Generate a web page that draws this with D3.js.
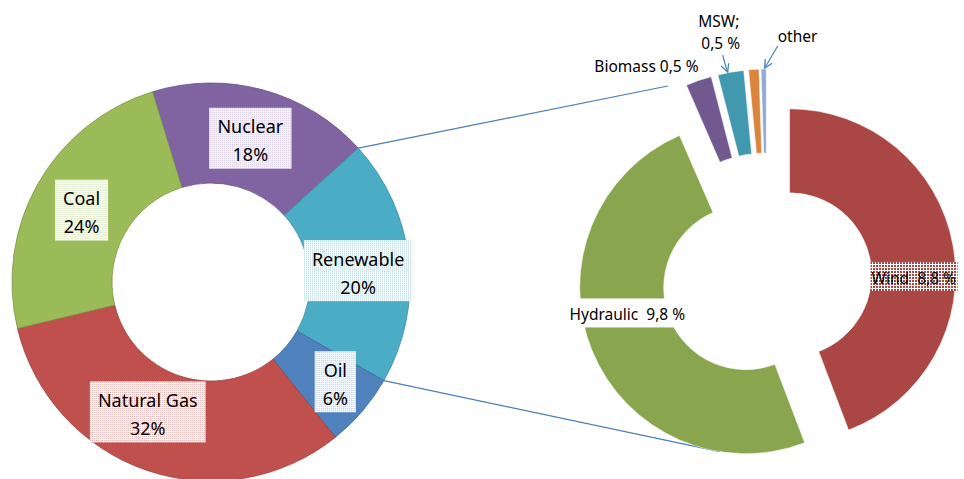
<!DOCTYPE html>
<html>
<head>
<meta charset="utf-8">
<script src="https://cdn.jsdelivr.net/npm/d3@7"></script>
<style>
  body { margin: 0; background: #fff; }
  text { font-family: "Noto Sans", "Open Sans", sans-serif; fill: #000; }
</style>
</head>
<body>
<script>
// energy mix (left ring)
const mixLabels = ["Nuclear", "Renewable", "Oil", "Natural Gas", "Coal"];
const mixValues = [18, 20, 6, 32, 24];
const mixColors = ["#8064A2", "#4BACC6", "#4F81BD", "#C0504D", "#9BBB59"];

// renewable split (right ring, % of total)
const renLabels = ["Wind", "Hydraulic", "Biomass", "MSW", "", "other"];
const renValues = [8.8, 9.8, 0.5, 0.5, 0.2, 0.1];
const renText = ["Wind  8,8 %", "Hydraulic  9,8 %", "Biomass 0,5 %", "MSW;|0,5 %", "", "other"];
const renColors = ["#AA4643", "#89A54E", "#71588F", "#4198AF", "#DB843D", "#93A9CF"];

const width = 964, height = 479;
const deg = Math.PI / 180;

const svg = d3.select("body").append("svg")
    .attr("width", width)
    .attr("height", height);
const defs = svg.append("defs");

// dotted label fills like excel's pattern fill
mixColors.forEach(function(c, i) {
  let p = defs.append("pattern").attr("id", "dots" + i)
      .attr("width", 2).attr("height", 2)
      .attr("patternUnits", "userSpaceOnUse");
  p.append("rect").attr("width", 2).attr("height", 2).attr("fill", "#fff");
  p.append("rect").attr("width", 1).attr("height", 1).attr("fill", c).attr("opacity", 0.55);
});
let grid = defs.append("pattern").attr("id", "grid")
    .attr("width", 3).attr("height", 3)
    .attr("patternUnits", "userSpaceOnUse");
grid.append("rect").attr("width", 3).attr("height", 3).attr("fill", "#fff");
grid.append("rect").attr("x", 1).attr("y", 1).attr("width", 2).attr("height", 2).attr("fill", renColors[0]);

defs.append("marker").attr("id", "arrow")
    .attr("viewBox", "0 0 10 10").attr("refX", 9).attr("refY", 5)
    .attr("markerWidth", 10).attr("markerHeight", 10)
    .attr("markerUnits", "userSpaceOnUse")
    .attr("orient", "auto")
  .append("path")
    .attr("d", "M1,1 L9,5 L1,9")
    .attr("fill", "none")
    .attr("stroke", "#4A7EBB")
    .attr("stroke-width", 1.3);

// ---- geometry
const left = {cx: 211, cy: 282, r0: 99, r1: 199};
const right = {cx: 767, cy: 279, r0: 82, r1: 166};
const explode = [23, 23, 44, 44, 44, 44];

const pieL = d3.pie().sort(null).startAngle(-17.1 * deg).endAngle(342.9 * deg);
const pieR = d3.pie().sort(null);
const arcL = d3.arc().innerRadius(left.r0).outerRadius(left.r1);
const arcR = d3.arc().innerRadius(right.r0).outerRadius(right.r1);

const mixArcs = pieL(mixValues);
const renArcs = pieR(renValues);

function polar(a, r) { return [Math.sin(a) * r, -Math.cos(a) * r]; }
function offsetOf(d, i) {
  return polar((d.startAngle + d.endAngle) / 2, explode[i]);
}

// connector lines from the renewable slice
const ren = mixArcs[1];
let p1 = polar(ren.startAngle, left.r1), p2 = polar(ren.endAngle, left.r1);
let q1 = polar(332.8 * deg, 217);
let hOff = offsetOf(renArcs[1], 1);
let q2 = polar(189 * deg, right.r1);
svg.append("line")
    .attr("x1", left.cx + p1[0]).attr("y1", left.cy + p1[1])
    .attr("x2", right.cx + q1[0]).attr("y2", right.cy + q1[1])
    .attr("stroke", "#4A7EBB").attr("stroke-width", 1.2);
svg.append("line")
    .attr("x1", left.cx + p2[0]).attr("y1", left.cy + p2[1])
    .attr("x2", right.cx + hOff[0] + q2[0]).attr("y2", right.cy + hOff[1] + q2[1])
    .attr("stroke", "#4A7EBB").attr("stroke-width", 1.2);

// ---- left ring
const gL = svg.append("g").attr("transform", "translate(" + left.cx + "," + left.cy + ")");
gL.selectAll("path")
  .data(mixArcs)
  .enter()
  .append("path")
  .attr("d", arcL)
  .attr("fill", function(d, i) { return mixColors[i]; })
  .attr("stroke", function(d, i) { return d3.color(mixColors[i]).darker(0.6); })
  .attr("stroke-width", 0.8);

// label nudges (excel moved a few of them)
const nudgeL = [[0, 0], [-1, 5], [11, 3], [-15, -11], [0, 2]];
const lab = gL.selectAll(".lab")
  .data(mixArcs)
  .enter()
  .append("g")
  .attr("class", "lab")
  .attr("transform", function(d, i) {
    let c = arcL.centroid(d);
    return "translate(" + (c[0] + nudgeL[i][0]) + "," + (c[1] + nudgeL[i][1]) + ")";
  });
lab.each(function(d, i) {
  let g = d3.select(this);
  let box = g.append("rect");
  let t = g.append("text").attr("text-anchor", "middle").style("font-size", "18px");
  t.append("tspan").attr("x", 0).attr("y", -5).text(mixLabels[i]);
  t.append("tspan").attr("x", 0).attr("y", 23).text(mixValues[i] + "%");
  let w = t.node().getBBox().width + 16;
  box.attr("x", -w / 2).attr("y", -30.5).attr("width", w).attr("height", 61)
     .attr("fill", "url(#dots" + i + ")");
});

// ---- right ring, exploded
const gR = svg.append("g").attr("transform", "translate(" + right.cx + "," + right.cy + ")");
gR.selectAll("path")
  .data(renArcs)
  .enter()
  .append("path")
  .attr("transform", function(d, i) { return "translate(" + offsetOf(d, i) + ")"; })
  .attr("d", arcR)
  .attr("fill", function(d, i) { return renColors[i]; })
  .attr("stroke", "#fff")
  .attr("stroke-width", 0.5);

// wind label (grid fill)
let wc = arcR.centroid(renArcs[0]), wo = offsetOf(renArcs[0], 0);
let wx = wc[0] + wo[0] + 2, wy = wc[1] + wo[1] + 24;
gR.append("rect")
  .attr("x", wx - 43).attr("y", wy - 14.5).attr("width", 87).attr("height", 29)
  .attr("fill", "url(#grid)");
gR.append("text")
  .attr("x", wx - 42).attr("y", wy + 7.5)
  .style("font-size", "15.5px").style("white-space", "pre")
  .text(renText[0]);

// hydraulic label (white box)
let hc = arcR.centroid(renArcs[1]);
let hx = hc[0] + hOff[0] - 3.5, hy = hc[1] + hOff[1] - 21.5;
gR.append("rect")
  .attr("x", hx - 66).attr("y", hy - 14.5).attr("width", 130).attr("height", 29)
  .attr("fill", "#fff");
gR.append("text")
  .attr("x", hx).attr("y", hy + 7.5)
  .attr("text-anchor", "middle")
  .style("font-size", "15.5px").style("white-space", "pre")
  .text(renText[1]);

// small slices: labels outside
function outerPt(i) {
  let d = renArcs[i], o = offsetOf(d, i);
  let p = polar((d.startAngle + d.endAngle) / 2, right.r1);
  return [p[0] + o[0], p[1] + o[1]];
}
let bp = outerPt(2);
gR.append("text")
  .attr("x", bp[0]).attr("y", bp[1] - 8)
  .attr("text-anchor", "end")
  .style("font-size", "15.5px")
  .text(renText[2]);

let mp = outerPt(3);
let mswLines = renText[3].split("|");
gR.append("text")
  .attr("x", mp[0] - 12).attr("y", mp[1] - 45)
  .attr("text-anchor", "middle")
  .style("font-size", "15.5px")
  .text(mswLines[0]);
gR.append("text")
  .attr("x", mp[0] - 10).attr("y", mp[1] - 23)
  .attr("text-anchor", "middle")
  .style("font-size", "15.5px")
  .text(mswLines[1]);
gR.append("path")
  .attr("d", "M" + (mp[0] - 8) + "," + (mp[1] - 17) + " Q" + (mp[0] - 6) + "," + (mp[1] - 8) + " " + (mp[0] - 3) + "," + (mp[1]))
  .attr("fill", "none").attr("stroke", "#4A7EBB").attr("stroke-width", 1.2)
  .attr("marker-end", "url(#arrow)");

let op = outerPt(5);
gR.append("text")
  .attr("x", op[0] + 14).attr("y", op[1] - 27)
  .style("font-size", "15.5px")
  .text(renText[5]);
gR.append("path")
  .attr("d", "M" + (op[0] + 14) + "," + (op[1] - 23) + " L" + (op[0] + 1) + "," + (op[1] - 1))
  .attr("fill", "none").attr("stroke", "#4A7EBB").attr("stroke-width", 1.2)
  .attr("marker-end", "url(#arrow)");
</script>
</body>
</html>
